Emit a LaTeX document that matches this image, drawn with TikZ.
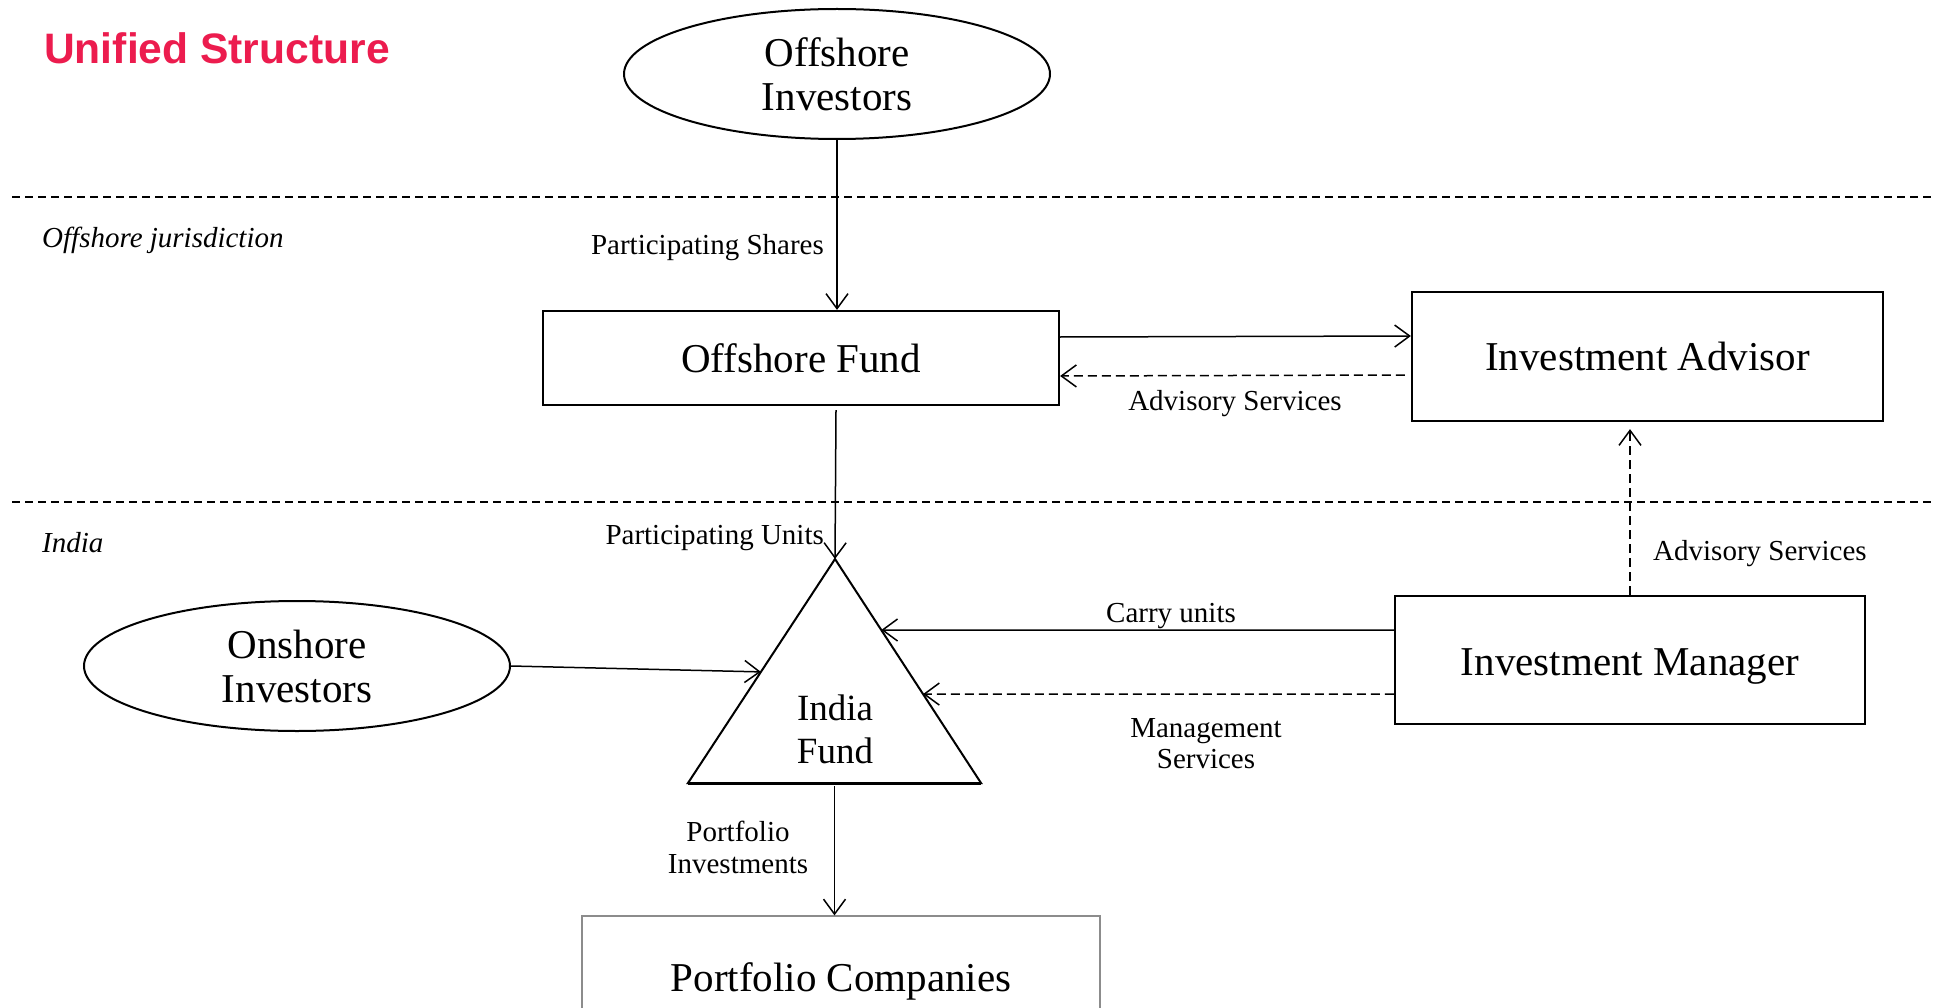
\documentclass[tikz,border=0pt]{standalone}
\usepackage{fontspec}
\setmainfont{Liberation Serif}
\newfontfamily\titlefont{Liberation Sans}
\usetikzlibrary{arrows.meta,shapes.geometric,calc}
\definecolor{titlered}{RGB}{236,28,78}
\definecolor{boxgray}{RGB}{140,140,140}
\tikzset{
  x=1pt, y=1pt,
  bigtext/.style={font=\fontsize{41}{44}\selectfont, align=center, inner sep=0pt},
  lbl/.style={font=\fontsize{29}{32}\selectfont, align=center, inner sep=0pt},
  ital/.style={font=\fontsize{29}{32}\selectfont\itshape, inner sep=0pt},
  boxnode/.style={draw, line width=2.2pt, rectangle, bigtext},
  ellnode/.style={draw, line width=2pt, ellipse, bigtext, minimum width=426pt, minimum height=130pt},
  conn/.style={line width=1.5pt, -{Straight Barb[length=15pt,width=22pt,line width=1.5pt]}},
  dconn/.style={conn, dash pattern=on 9pt off 5pt},
  sep/.style={line width=1.5pt, dash pattern=on 8pt off 5pt},
}
\begin{document}
\begin{tikzpicture}
\useasboundingbox (0,0) rectangle (1934,-1008);
\fill[white] (0,0) rectangle (1934,-1008);

% title and region labels
\node[anchor=west, inner sep=0pt, text=titlered, font=\fontsize{42.6}{46}\selectfont\titlefont\bfseries] (title) at (44,-48) {Unified Structure};
\node[ital, anchor=west] (offj) at (42,-240) {Offshore jurisdiction};
\node[ital, anchor=west] (india) at (42,-543) {India};

% separators
\coordinate (s1a) at (12,-197); \coordinate (s1b) at (1934,-197);
\coordinate (s2a) at (12,-502); \coordinate (s2b) at (1934,-502);
\draw[sep] (s1a) -- (s1b);
\draw[sep] (s2a) -- (s2b);

% nodes
\node[ellnode] (oinv) at (837,-74) {Offshore\\Investors};
\node[boxnode, minimum width=516pt, minimum height=94pt] (ofund) at (801,-358) {Offshore Fund};
\node[boxnode, minimum width=471pt, minimum height=129pt] (iadv) at (1647.5,-356.5) {Investment Advisor};
\node[boxnode, minimum width=470pt, minimum height=128pt] (imgr) at (1630,-660) {};
\node[bigtext] (imgrtext) at (1630,-666) {Investment Manager};
\node[ellnode] (onv) at (297,-666) {Onshore\\Investors};

% triangle
\coordinate (apex) at (835,-559);
\coordinate (bl) at (688,-783);
\coordinate (br) at (981,-783);
\draw[line width=2pt, line join=miter] (apex) -- (br) -- (bl) -- cycle;
\draw[line width=3pt] (bl) -- (br);
\node[font=\fontsize{37}{43}\selectfont, align=center, inner sep=0pt] (ifund) at (835,-729) {India\\Fund};

\node[draw=boxgray, line width=1.2pt, rectangle, minimum width=518pt, minimum height=124pt, bigtext] (pcomp) at (841,-978) {};
\node[bigtext] (pctext) at (841,-981) {Portfolio Companies};

% helper coordinates on the triangle
\coordinate (onl) at ($(apex)!0.504!(bl)$);
\coordinate (ir1) at ($(apex)!0.317!(br)$);
\coordinate (ir2) at ($(apex)!0.603!(br)$);
\coordinate (bm) at ($(bl)!0.5!(br)$);
\coordinate (advb) at ([yshift=-7pt]iadv.south);

% connectors
\draw[conn] (oinv.south) -- (oinv.south |- ofund.north);
\draw[conn] ([yshift=21pt]ofund.east) -- ([yshift=20.5pt]iadv.west);
\draw[dconn] ([yshift=-18.5pt,xshift=-6pt]iadv.west) -- ([yshift=-18pt]ofund.east);
\draw[conn] ([xshift=35pt,yshift=-4pt]ofund.south) -- (apex);
\draw[conn] (onv.east) -- (onl);
\draw[conn] ([yshift=30pt]imgr.west) -- (ir1);
\draw[dconn] ([yshift=-34pt]imgr.west) -- (ir2);
\draw[dconn, line width=1.2pt] (imgr.north) -- (imgr.north |- advb);
\draw[conn] ([yshift=-3pt]bm) -- (bm |- pcomp.north);

% connector labels
\node[lbl, anchor=east] (lps) at (824,-248) {Participating Shares};
\node[lbl] (las1) at (1235,-404) {Advisory Services};
\node[lbl, anchor=east] (lpu) at (824,-538) {Participating Units};
\node[lbl] (lcu) at (1171,-616) {Carry units};
\node[lbl, font=\fontsize{29}{31}\selectfont] (lms) at (1206,-744) {Management\\Services};
\node[lbl, anchor=west] (las2) at (1653,-554) {Advisory Services};
\node[lbl, font=\fontsize{29}{32}\selectfont] (lpi) at (738,-847) {Portfolio\\Investments};
\end{tikzpicture}
\end{document}
